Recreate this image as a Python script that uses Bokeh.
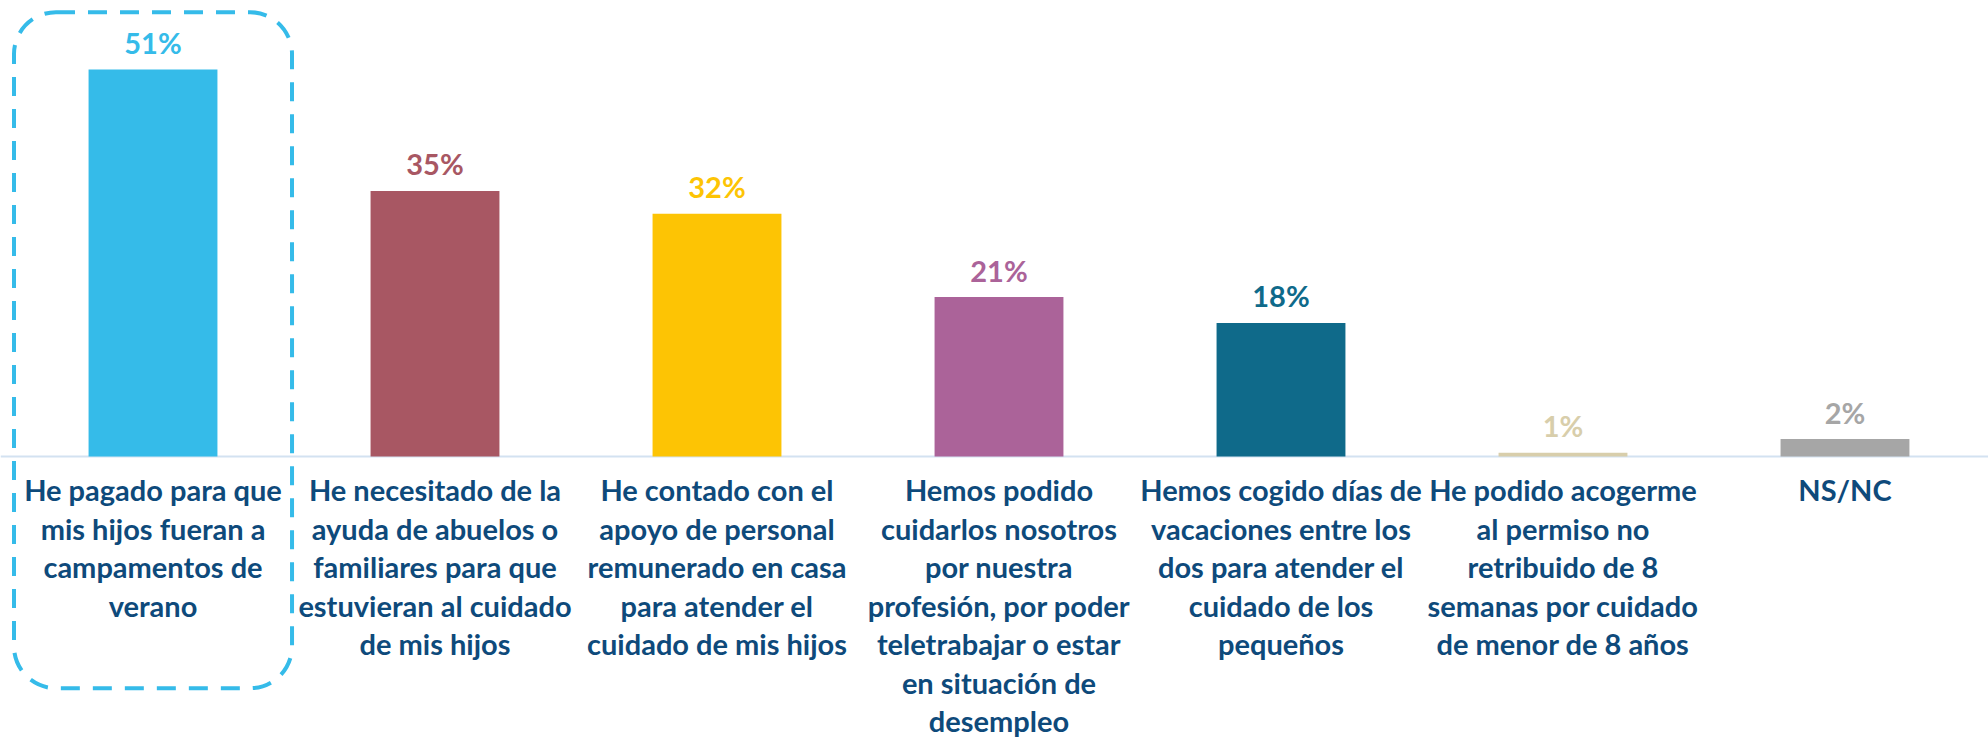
from bokeh.plotting import figure
from bokeh.models import ColumnDataSource, Range1d, Span, BoxAnnotation
from bokeh.core.properties import value
from bokeh.embed import file_html
from bokeh.resources import INLINE

# ---- data -------------------------------------------------------------
categories = [
    "He pagado para que\nmis hijos fueran a\ncampamentos de\nverano",
    "He necesitado de la\nayuda de abuelos o\nfamiliares para que\nestuvieran al cuidado\nde mis hijos",
    "He contado con el\napoyo de personal\nremunerado en casa\npara atender el\ncuidado de mis hijos",
    "Hemos podido\ncuidarlos nosotros\npor nuestra\nprofesión, por poder\nteletrabajar o estar\nen situación de\ndesempleo",
    "Hemos cogido días de\nvacaciones entre los\ndos para atender el\ncuidado de los\npequeños",
    "He podido acogerme\nal permiso no\nretribuido de 8\nsemanas por cuidado\nde menor de 8 años",
    "NS/NC",
]
values = [51.0, 35.0, 32.0, 21.0, 17.6, 0.5, 2.3]
value_labels = ["51%", "35%", "32%", "21%", "18%", "1%", "2%"]
bar_colors = ["#35BBE9", "#A85763", "#FDC404", "#AB6399", "#0F6A8A", "#D8CEAB", "#A6A6A6"]
highlight_index = 0

# ---- styles -----------------------------------------------------------
LABEL_COLOR = "#0E4A7B"
FONT = "Lato"

x_pos = [i + 0.5 for i in range(len(categories))]
src = ColumnDataSource(dict(
    x=x_pos,
    value=values,
    label=value_labels,
    color=bar_colors,
    cat=categories,
    zero=[0] * len(categories),
))

W, H = 1988, 739
p = figure(
    width=W, height=H,
    x_range=Range1d(-0.0408, 7.0089),
    y_range=Range1d(-37.30, 60.09),
    output_backend="svg", toolbar_location=None,
    x_axis_type=None, y_axis_type=None,
    min_border=0, min_border_left=0, min_border_right=0,
    min_border_top=0, min_border_bottom=0,
)
p.outline_line_color = None
p.xgrid.visible = False
p.ygrid.visible = False
p.background_fill_color = "white"
p.border_fill_color = "white"

# baseline
p.add_layout(Span(location=0, dimension="width", line_color="#D3E2F1",
                  line_width=2, level="underlay"))

# bars
p.vbar(x="x", top="value", bottom=0, width=0.457, source=src,
       fill_color="color", line_color=None)

# value labels
p.text(x="x", y="value", text="label", source=src,
       text_color="color", text_font=value(FONT), text_font_style="bold",
       text_font_size="29px", text_align="center", text_baseline="alphabetic",
       y_offset=-27)

# category labels
p.text(x="x", y="zero", text="cat", source=src,
       text_color=LABEL_COLOR, text_font=value(FONT), text_font_style="bold",
       text_font_size="29px", text_align="center", text_baseline="top",
       text_line_height=1.10, y_offset=16)

# highlight box around first category
hx = x_pos[highlight_index]
p.add_layout(BoxAnnotation(
    left=hx - 0.493, right=hx + 0.493, top=58.55, bottom=-30.54,
    fill_color=None, fill_alpha=0, line_color=bar_colors[highlight_index],
    line_alpha=1.0, line_width=4, line_dash="19 13", border_radius=42,
))

open("out.html", "w").write(file_html(p, INLINE))
